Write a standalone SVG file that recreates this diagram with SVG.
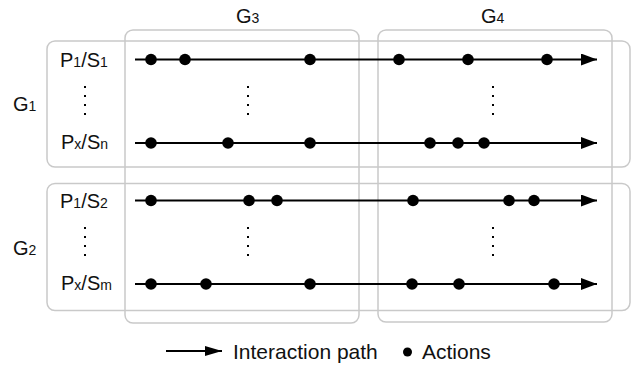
<svg xmlns="http://www.w3.org/2000/svg" width="636" height="365" viewBox="0 0 636 365">
<style>
.box{fill:none;stroke:#c9c9c9;stroke-width:1.5}
.path{stroke:#000;stroke-width:1.8;fill:none}
.dot{fill:#000}
.vd{stroke:#000;stroke-width:2;stroke-dasharray:2 7}
text{font-family:"Liberation Sans",Arial,Helvetica,sans-serif;fill:#111}
.lb{font-size:20px}
.sb{font-size:14px}
.lg{font-size:21px}
</style>
<defs>
<marker id="ah" markerWidth="16" markerHeight="12" refX="16" refY="6" orient="auto" markerUnits="userSpaceOnUse">
<path d="M0,0 L16,6 L0,12 Z" fill="#000"/>
</marker>
<marker id="ahs" markerWidth="17" markerHeight="10" refX="17" refY="5" orient="auto" markerUnits="userSpaceOnUse">
<path d="M0,0 L17,5 L0,10 Z" fill="#000"/>
</marker>
</defs>
<g id="G1">
<rect class="box" x="47" y="41" width="583" height="126" rx="8"/>
<text class="lb" x="13" y="111">G<tspan class="sb">1</tspan></text>
<text class="lb" x="60" y="66.5">P<tspan class="sb">1</tspan>/S<tspan class="sb">1</tspan></text>
<text class="lb" x="61" y="148.5">P<tspan class="sb">x</tspan>/S<tspan class="sb">n</tspan></text>
<line class="vd" x1="85" y1="86" x2="85" y2="116"/>
</g>
<g id="G2">
<rect class="box" x="47" y="183.5" width="583" height="127" rx="8"/>
<text class="lb" x="13" y="254.5">G<tspan class="sb">2</tspan></text>
<text class="lb" x="60" y="207.5">P<tspan class="sb">1</tspan>/S<tspan class="sb">2</tspan></text>
<text class="lb" x="61" y="289.5">P<tspan class="sb">x</tspan>/S<tspan class="sb">m</tspan></text>
<line class="vd" x1="85" y1="227" x2="85" y2="257"/>
</g>
<g id="G3">
<rect class="box" x="125" y="30" width="234" height="293" rx="8"/>
<text class="lb" x="236" y="23">G<tspan class="sb">3</tspan></text>
<line class="vd" x1="248" y1="86" x2="248" y2="116"/>
<line class="vd" x1="248" y1="227" x2="248" y2="257"/>
</g>
<g id="G4">
<rect class="box" x="378" y="30" width="234" height="292" rx="8"/>
<text class="lb" x="481" y="23">G<tspan class="sb">4</tspan></text>
<line class="vd" x1="493" y1="86" x2="493" y2="116"/>
<line class="vd" x1="493" y1="227" x2="493" y2="257"/>
</g>
<g id="connectors">
<line class="path" x1="135" y1="59.5" x2="597" y2="59.5" marker-end="url(#ah)"/>
<line class="path" x1="135" y1="143" x2="597" y2="143" marker-end="url(#ah)"/>
<line class="path" x1="135" y1="200.5" x2="597" y2="200.5" marker-end="url(#ah)"/>
<line class="path" x1="135" y1="284" x2="597" y2="284" marker-end="url(#ah)"/>
</g>
<g id="actions">
<circle class="dot" cx="151" cy="59.5" r="5.8"/>
<circle class="dot" cx="185" cy="59.5" r="5.8"/>
<circle class="dot" cx="310" cy="59.5" r="5.8"/>
<circle class="dot" cx="399" cy="59.5" r="5.8"/>
<circle class="dot" cx="468" cy="59.5" r="5.8"/>
<circle class="dot" cx="547" cy="59.5" r="5.8"/>
<circle class="dot" cx="151" cy="143" r="5.8"/>
<circle class="dot" cx="228" cy="143" r="5.8"/>
<circle class="dot" cx="310" cy="143" r="5.8"/>
<circle class="dot" cx="430" cy="143" r="5.8"/>
<circle class="dot" cx="458" cy="143" r="5.8"/>
<circle class="dot" cx="484" cy="143" r="5.8"/>
<circle class="dot" cx="151" cy="200.5" r="5.8"/>
<circle class="dot" cx="249" cy="200.5" r="5.8"/>
<circle class="dot" cx="277" cy="200.5" r="5.8"/>
<circle class="dot" cx="413" cy="200.5" r="5.8"/>
<circle class="dot" cx="509" cy="200.5" r="5.8"/>
<circle class="dot" cx="534" cy="200.5" r="5.8"/>
<circle class="dot" cx="151" cy="284" r="5.8"/>
<circle class="dot" cx="206" cy="284" r="5.8"/>
<circle class="dot" cx="310" cy="284" r="5.8"/>
<circle class="dot" cx="412" cy="284" r="5.8"/>
<circle class="dot" cx="459" cy="284" r="5.8"/>
<circle class="dot" cx="554" cy="284" r="5.8"/>
</g>
<g id="legend">
<line class="path" x1="166" y1="351" x2="222" y2="351" marker-end="url(#ahs)"/>
<text class="lg" x="233" y="358.5">Interaction path</text>
<circle class="dot" cx="407.5" cy="352" r="4.5"/>
<text class="lg" x="422" y="358.5">Actions</text>
</g>
</svg>
